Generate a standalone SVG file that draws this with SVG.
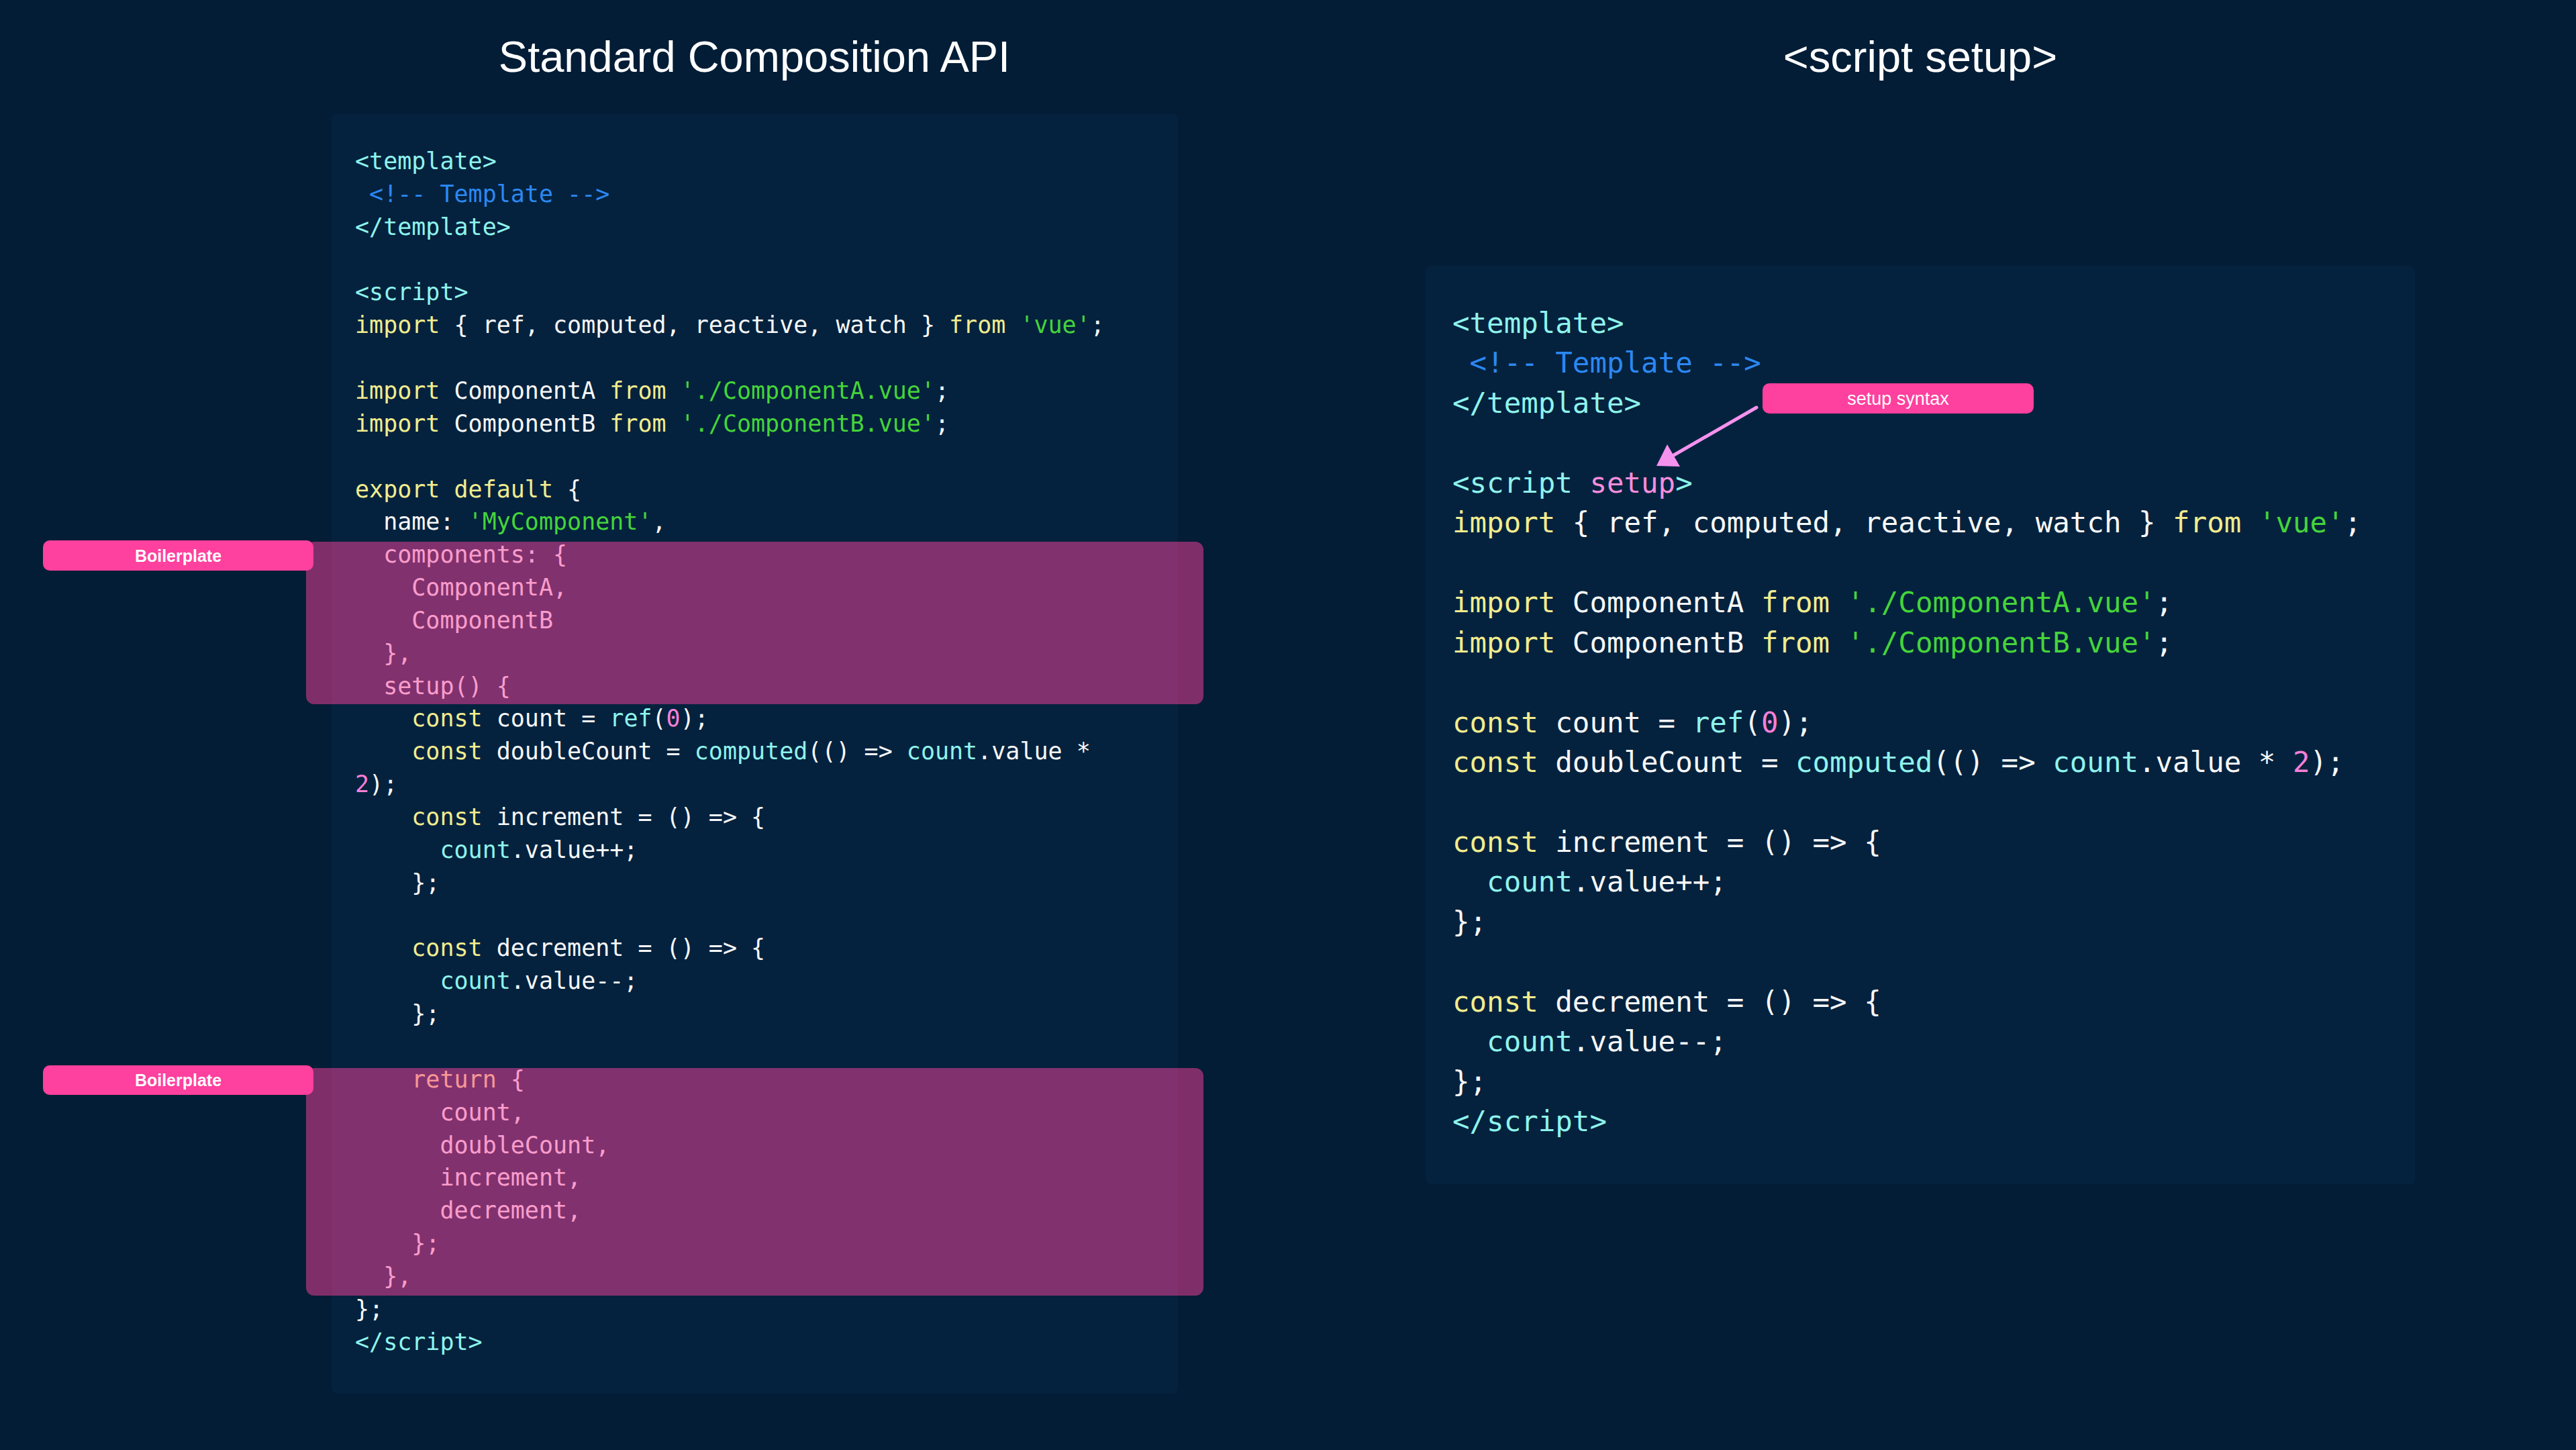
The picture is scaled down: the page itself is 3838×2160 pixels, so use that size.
<svg xmlns="http://www.w3.org/2000/svg" width="3838" height="2160" viewBox="0 0 3838 2160">
<style>
.bg{fill:#031d36}
.panel{fill:#04223e}
.title{font-family:"Liberation Sans",Arial,sans-serif;font-size:65px;fill:#ffffff;text-anchor:middle}
.cl{font-family:"DejaVu Sans Mono",monospace;font-size:35px;fill:#f8f8f8;white-space:pre}
.cr{font-family:"DejaVu Sans Mono",monospace;font-size:42.45px;fill:#f8f8f8;white-space:pre}
.t{fill:#8ff3ec}
.c{fill:#2c88f2}
.k{fill:#f2ec8e}
.s{fill:#45d43a}
.n{fill:#f77fd6}
.f{fill:#8ff3ec}
.p{fill:#f78ddc}
.hl{fill:#fe409e;fill-opacity:0.5}
.lab{fill:#fe409e}
.labt{font-family:"Liberation Sans",Arial,sans-serif;font-size:25px;font-weight:bold;fill:#ffffff;text-anchor:middle}
.labt2{font-family:"Liberation Sans",Arial,sans-serif;font-size:27px;fill:#ffffff;text-anchor:middle}
.arrow{stroke:#f592ee;stroke-width:5;stroke-linecap:round;fill:none}
.ahead{fill:#f592ee}
</style>
<rect class="bg" x="0" y="0" width="3838" height="2160"/>

<g id="left-title"><text class="title" x="1124" y="107">Standard Composition API</text></g>
<g id="right-title"><text class="title" x="2861" y="107">&lt;script setup&gt;</text></g>

<g id="left-panel">
<rect class="panel" x="494" y="170" width="1261" height="1906" rx="8"/>
<text class="cl" x="529" y="252"><tspan class="t">&lt;template&gt;</tspan></text>
<text class="cl" x="529" y="300.85"><tspan class="c"> &lt;!-- Template --&gt;</tspan></text>
<text class="cl" x="529" y="349.7"><tspan class="t">&lt;/template&gt;</tspan></text>
<text class="cl" x="529" y="447.4"><tspan class="t">&lt;script&gt;</tspan></text>
<text class="cl" x="529" y="496.25"><tspan class="k">import</tspan> { ref, computed, reactive, watch } <tspan class="k">from</tspan> <tspan class="s">'vue'</tspan>;</text>
<text class="cl" x="529" y="593.95"><tspan class="k">import</tspan> ComponentA <tspan class="k">from</tspan> <tspan class="s">'./ComponentA.vue'</tspan>;</text>
<text class="cl" x="529" y="642.8"><tspan class="k">import</tspan> ComponentB <tspan class="k">from</tspan> <tspan class="s">'./ComponentB.vue'</tspan>;</text>
<text class="cl" x="529" y="740.5"><tspan class="k">export default</tspan> {</text>
<text class="cl" x="529" y="789.35">  name: <tspan class="s">'MyComponent'</tspan>,</text>
<text class="cl" x="529" y="838.2">  components: {</text>
<text class="cl" x="529" y="887.05">    ComponentA,</text>
<text class="cl" x="529" y="935.9">    ComponentB</text>
<text class="cl" x="529" y="984.75">  },</text>
<text class="cl" x="529" y="1033.6">  setup() {</text>
<text class="cl" x="529" y="1082.45">    <tspan class="k">const</tspan> count = <tspan class="f">ref</tspan>(<tspan class="n">0</tspan>);</text>
<text class="cl" x="529" y="1131.3">    <tspan class="k">const</tspan> doubleCount = <tspan class="f">computed</tspan>(() =&gt; <tspan class="f">count</tspan>.value *</text>
<text class="cl" x="529" y="1180.15"><tspan class="n">2</tspan>);</text>
<text class="cl" x="529" y="1229">    <tspan class="k">const</tspan> increment = () =&gt; {</text>
<text class="cl" x="529" y="1277.85">      <tspan class="f">count</tspan>.value++;</text>
<text class="cl" x="529" y="1326.7">    };</text>
<text class="cl" x="529" y="1424.4">    <tspan class="k">const</tspan> decrement = () =&gt; {</text>
<text class="cl" x="529" y="1473.25">      <tspan class="f">count</tspan>.value--;</text>
<text class="cl" x="529" y="1522.1">    };</text>
<text class="cl" x="529" y="1619.8">    <tspan class="k">return</tspan> {</text>
<text class="cl" x="529" y="1668.65">      count,</text>
<text class="cl" x="529" y="1717.5">      doubleCount,</text>
<text class="cl" x="529" y="1766.35">      increment,</text>
<text class="cl" x="529" y="1815.2">      decrement,</text>
<text class="cl" x="529" y="1864.05">    };</text>
<text class="cl" x="529" y="1912.9">  },</text>
<text class="cl" x="529" y="1961.75">};</text>
<text class="cl" x="529" y="2010.6"><tspan class="t">&lt;/script&gt;</tspan></text>
</g>

<g id="highlight-components">
<rect class="hl" x="456" y="807" width="1337" height="242" rx="12"/>
</g>
<g id="highlight-return">
<rect class="hl" x="456" y="1591" width="1337" height="339" rx="12"/>
</g>

<g id="label-boilerplate-1">
<rect class="lab" x="64" y="805" width="403" height="45" rx="10"/>
<text class="labt" x="265.5" y="836.5">Boilerplate</text>
</g>
<g id="label-boilerplate-2">
<rect class="lab" x="64" y="1587" width="403" height="44" rx="10"/>
<text class="labt" x="265.5" y="1618">Boilerplate</text>
</g>

<g id="right-panel">
<rect class="panel" x="2124" y="396" width="1474" height="1368" rx="8"/>
<text class="cr" x="2164" y="496"><tspan class="t">&lt;template&gt;</tspan></text>
<text class="cr" x="2164" y="555.45"><tspan class="c"> &lt;!-- Template --&gt;</tspan></text>
<text class="cr" x="2164" y="614.9"><tspan class="t">&lt;/template&gt;</tspan></text>
<text class="cr" x="2164" y="733.8"><tspan class="t">&lt;script</tspan><tspan class="p"> setup</tspan><tspan class="t">&gt;</tspan></text>
<text class="cr" x="2164" y="793.25"><tspan class="k">import</tspan> { ref, computed, reactive, watch } <tspan class="k">from</tspan> <tspan class="s">'vue'</tspan>;</text>
<text class="cr" x="2164" y="912.15"><tspan class="k">import</tspan> ComponentA <tspan class="k">from</tspan> <tspan class="s">'./ComponentA.vue'</tspan>;</text>
<text class="cr" x="2164" y="971.6"><tspan class="k">import</tspan> ComponentB <tspan class="k">from</tspan> <tspan class="s">'./ComponentB.vue'</tspan>;</text>
<text class="cr" x="2164" y="1090.5"><tspan class="k">const</tspan> count = <tspan class="f">ref</tspan>(<tspan class="n">0</tspan>);</text>
<text class="cr" x="2164" y="1149.95"><tspan class="k">const</tspan> doubleCount = <tspan class="f">computed</tspan>(() =&gt; <tspan class="f">count</tspan>.value * <tspan class="n">2</tspan>);</text>
<text class="cr" x="2164" y="1268.85"><tspan class="k">const</tspan> increment = () =&gt; {</text>
<text class="cr" x="2164" y="1328.3">  <tspan class="f">count</tspan>.value++;</text>
<text class="cr" x="2164" y="1387.75">};</text>
<text class="cr" x="2164" y="1506.65"><tspan class="k">const</tspan> decrement = () =&gt; {</text>
<text class="cr" x="2164" y="1566.1">  <tspan class="f">count</tspan>.value--;</text>
<text class="cr" x="2164" y="1625.55">};</text>
<text class="cr" x="2164" y="1685"><tspan class="t">&lt;/script&gt;</tspan></text>
</g>

<g id="label-setup-syntax">
<rect class="lab" x="2626" y="571" width="404" height="45" rx="10"/>
<text class="labt2" x="2828" y="603">setup syntax</text>
</g>

<g id="connectors">
<path class="arrow" d="M2617 607 L2492 679"/>
<polygon class="ahead" points="2484,662 2468,694 2503,695"/>
</g>
</svg>
